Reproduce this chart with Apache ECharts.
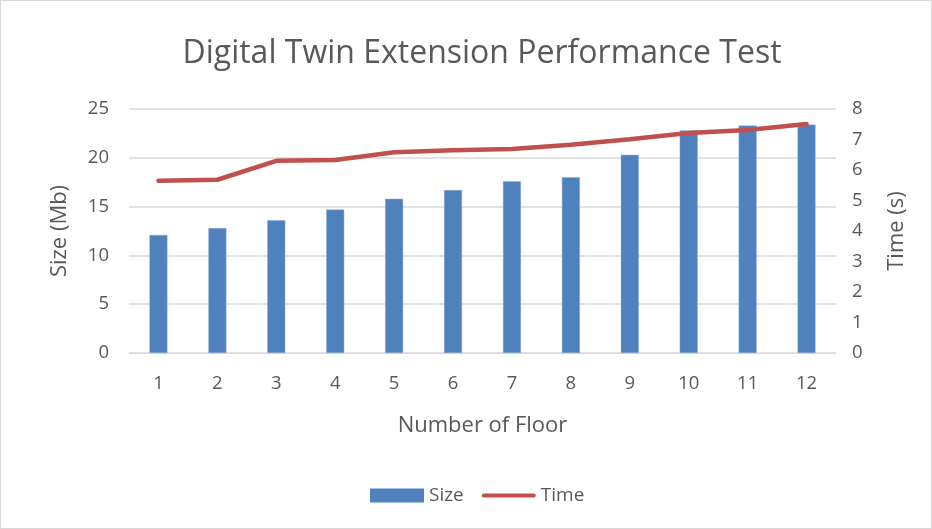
<!DOCTYPE html>
<html>
<head>
<meta charset="utf-8">
<script src="https://cdn.jsdelivr.net/npm/echarts@6/dist/echarts.min.js"></script>
<style>
  html, body { margin: 0; padding: 0; background: #fff; }
  #chart { width: 930px; height: 527px; border: 1px solid #d9d9d9; }
</style>
</head>
<body>
<div id="chart"></div>
<script>
// Floors tested and the measured model size / extension time
const floors = ['1', '2', '3', '4', '5', '6', '7', '8', '9', '10', '11', '12'];
const sizeMb = [12.1, 12.8, 13.6, 14.7, 15.8, 16.7, 17.6, 18.0, 20.3, 22.8, 23.3, 23.4];
const timeSec = [5.65, 5.68, 6.30, 6.33, 6.58, 6.65, 6.69, 6.83, 7.01, 7.21, 7.31, 7.51];

const font = '"Open Sans", Lato, sans-serif';
const textColor = '#595959';

const chart = echarts.init(document.getElementById('chart'));
chart.setOption({
  animation: false,
  textStyle: { fontFamily: font },
  title: {
    text: 'Digital Twin Extension Performance Test',
    left: 476,
    textAlign: 'center',
    top: 32,
    textStyle: { fontFamily: font, fontSize: 32, fontWeight: 'normal', color: textColor }
  },
  legend: {
    bottom: 18,
    left: 364,
    itemGap: 18,
    textStyle: { fontFamily: font, fontSize: 19, color: textColor },
    data: [
      { name: 'Size', icon: 'rect', itemStyle: { color: '#4f81bd', borderWidth: 0 } },
      { name: 'Time', icon: 'path://M2,0 H55 A2,2 0 0 1 55,4 H2 A2,2 0 0 1 2,0 Z', itemStyle: { color: '#c0504d' } }
    ],
    itemWidth: 54,
    itemHeight: 14
  },
  grid: { left: 128, right: 95, top: 108, bottom: 175 },
  xAxis: {
    type: 'category',
    data: floors,
    name: 'Number of Floor',
    nameLocation: 'middle',
    nameGap: 62,
    nameTextStyle: { fontFamily: font, fontSize: 22, color: textColor },
    axisLine: { lineStyle: { color: '#d9d9d9', width: 1 } },
    axisTick: { show: false },
    axisLabel: { fontFamily: font, fontSize: 18.5, color: textColor, margin: 21 }
  },
  yAxis: [
    {
      type: 'value',
      min: 0, max: 25, interval: 5,
      name: 'Size (Mb)',
      nameLocation: 'middle',
      nameGap: 58,
      nameTextStyle: { fontFamily: font, fontSize: 22, color: textColor },
      axisLine: { show: false },
      axisTick: { show: false },
      axisLabel: { fontFamily: font, fontSize: 18.5, color: textColor, margin: 20 },
      splitLine: { lineStyle: { color: '#d9d9d9', width: 1.5 } }
    },
    {
      type: 'value',
      min: 0, max: 8, interval: 1,
      name: 'Time (s)',
      nameLocation: 'middle',
      nameGap: 50,
      nameRotate: 90,
      nameTextStyle: { fontFamily: font, fontSize: 22, color: textColor },
      axisLine: { show: false },
      axisTick: { show: false },
      axisLabel: { fontFamily: font, fontSize: 18.5, color: textColor, margin: 16 },
      splitLine: { show: false }
    }
  ],
  series: [
    {
      name: 'Size',
      type: 'bar',
      data: sizeMb,
      barWidth: 18,
      itemStyle: { color: '#4f81bd', borderColor: '#8eaadb', borderWidth: 0.5 }
    },
    {
      name: 'Time',
      type: 'line',
      yAxisIndex: 1,
      data: timeSec,
      symbol: 'none',
      lineStyle: { color: '#c0504d', width: 4.5, cap: 'round' },
      itemStyle: { color: '#c0504d' }
    }
  ]
});
</script>
</body>
</html>
